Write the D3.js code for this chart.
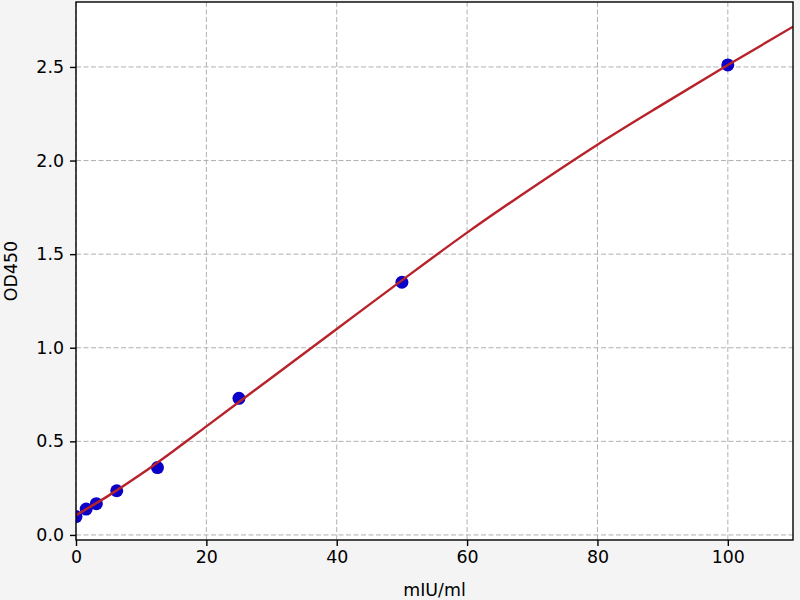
<!DOCTYPE html>
<html lang="en">
<head>
    <meta charset="UTF-8">
    <title>OD450 standard curve</title>
    <script src="https://d3js.org/d3.v7.min.js"></script>
    <style>
        html, body { margin: 0; padding: 0; background: #f4f4f4; }
        svg { display: block; }
        text { font-family: 'DejaVu Sans', sans-serif; fill: #000; }
    </style>
</head>
<body>
    <svg width="800" height="600"></svg>

    <script>
        // standard points
        const conc = [0, 1.5625, 3.125, 6.25, 12.5, 25, 50, 100];
        const od = [0.098, 0.138, 0.167, 0.236, 0.360, 0.730, 1.350, 2.511];

        // fitted curve
        const fitX = [0, 5, 10, 15, 20, 25, 30, 40, 50, 60, 70, 80, 90, 100, 110];
        const fitY = [0.105, 0.21, 0.325, 0.45, 0.58, 0.71, 0.84, 1.10, 1.36, 1.615, 1.855, 2.085, 2.30, 2.51, 2.715];

        const xTicks = [0, 20, 40, 60, 80, 100];
        const yTicks = [0, 0.5, 1.0, 1.5, 2.0, 2.5];

        const svg = d3.select("svg");
        const plotLeft = 76, plotRight = 793, plotTop = 2, plotBottom = 540;

        const x = d3.scaleLinear().domain([0, 110]).range([plotLeft, plotRight]);
        const y = d3.scaleLinear().domain([-0.027, 2.847]).range([plotBottom, plotTop]);

        // plot background
        svg.append("rect")
            .attr("x", plotLeft).attr("y", plotTop)
            .attr("width", plotRight - plotLeft).attr("height", plotBottom - plotTop)
            .attr("fill", "#fff");

        svg.append("clipPath").attr("id", "plot-clip")
            .append("rect")
            .attr("x", plotLeft).attr("y", plotTop)
            .attr("width", plotRight - plotLeft).attr("height", plotBottom - plotTop);

        // grid
        const grid = svg.append("g")
            .attr("stroke", "#b0b0b0")
            .attr("stroke-width", 1)
            .attr("stroke-dasharray", "5,2.5");
        grid.selectAll(".gx").data(xTicks).join("line")
            .attr("class", "gx")
            .attr("x1", d => x(d)).attr("x2", d => x(d))
            .attr("y1", plotTop).attr("y2", plotBottom);
        grid.selectAll(".gy").data(yTicks).join("line")
            .attr("class", "gy")
            .attr("x1", plotLeft).attr("x2", plotRight)
            .attr("y1", d => y(d)).attr("y2", d => y(d));

        const plot = svg.append("g").attr("clip-path", "url(#plot-clip)");

        plot.selectAll("circle")
            .data(conc.map((c, i) => [c, od[i]]))
            .join("circle")
            .attr("cx", d => x(d[0]))
            .attr("cy", d => y(d[1]))
            .attr("r", 6.5)
            .attr("fill", "#0a00c8");

        const line = d3.line()
            .x(d => x(d[0]))
            .y(d => y(d[1]))
            .curve(d3.curveMonotoneX);

        plot.append("path")
            .datum(fitX.map((v, i) => [v, fitY[i]]))
            .attr("d", line)
            .attr("fill", "none")
            .attr("stroke", "#b8222a")
            .attr("stroke-width", 2.4);

        // axes
        const xAxis = d3.axisBottom(x).tickValues(xTicks).tickFormat(d3.format("d"))
            .tickSize(6).tickPadding(5);
        const yAxis = d3.axisLeft(y).tickValues(yTicks).tickFormat(d3.format(".1f"))
            .tickSize(6).tickPadding(6);

        const gx = svg.append("g").attr("transform", `translate(0,${plotBottom})`).call(xAxis);
        const gy = svg.append("g").attr("transform", `translate(${plotLeft},0)`).call(yAxis);
        [gx, gy].forEach(g => {
            g.select(".domain").remove();
            g.selectAll(".tick line").attr("stroke", "#000").attr("stroke-width", 1.4);
            g.selectAll(".tick text").attr("font-size", 17.4).attr("fill", "#000");
        });

        // frame
        svg.append("rect")
            .attr("x", plotLeft).attr("y", plotTop)
            .attr("width", plotRight - plotLeft).attr("height", plotBottom - plotTop)
            .attr("fill", "none")
            .attr("stroke", "#000")
            .attr("stroke-width", 1.4);

        svg.append("text")
            .attr("x", (plotLeft + plotRight) / 2)
            .attr("y", 596)
            .attr("text-anchor", "middle")
            .attr("font-size", 17.4)
            .text("mIU/ml");

        svg.append("text")
            .attr("transform", `translate(17,${(plotTop + plotBottom) / 2}) rotate(-90)`)
            .attr("text-anchor", "middle")
            .attr("font-size", 17.4)
            .text("OD450");
    </script>
</body>
</html>
